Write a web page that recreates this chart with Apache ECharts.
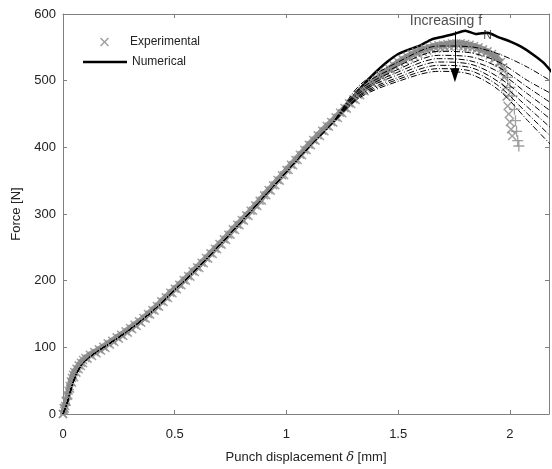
<!DOCTYPE html>
<html>
<head>
<meta charset="utf-8">
<script src="https://cdn.jsdelivr.net/npm/echarts@6/dist/echarts.min.js"></script>
<style>
  html, body { margin: 0; padding: 0; background: #fff; }
  #chart { width: 552px; height: 469px; }
</style>
</head>
<body>
<div id="chart"></div>
<script>
// axis ticks
var xTicks = [0, 0.5, 1, 1.5, 2];
var yTicks = [0, 100, 200, 300, 400, 500, 600];

// experimental specimen 1 (x markers) [displacement mm, force N]
var expA = [
  [0,0],[0.005,5],[0.01,12],[0.015,19],[0.02,27],[0.025,35],[0.03,42],[0.035,49],[0.04,54],[0.045,59],
  [0.05,63],[0.06,68],[0.07,73],[0.08,77],[0.09,81],[0.10,84],[0.12,89],[0.14,93],[0.16,97],[0.18,101],
  [0.20,106],[0.22,110],[0.24,115],[0.26,119],[0.28,124],[0.30,129],[0.32,134],[0.34,139],[0.36,144],[0.38,150],
  [0.40,156],[0.42,162],[0.44,169],[0.46,175],[0.48,182],[0.50,188],[0.52,194],[0.54,201],[0.56,207],[0.58,214],
  [0.60,220],[0.62,227],[0.64,234],[0.66,241],[0.68,248],[0.70,255],[0.72,262],[0.74,269],[0.76,277],[0.78,284],
  [0.80,291],[0.82,298],[0.84,305],[0.86,313],[0.88,320],[0.90,328],[0.92,336],[0.94,343],[0.96,351],[0.98,358],
  [1.00,366],[1.02,374],[1.04,381],[1.06,389],[1.08,396],[1.10,404],[1.12,411],[1.14,418],[1.16,425],[1.18,432],
  [1.20,438],[1.22,445],[1.24,452],[1.26,459],[1.28,466],[1.30,472],[1.32,479],[1.34,485],[1.36,491],[1.38,497],
  [1.40,502],[1.42,508],[1.44,513],[1.46,518],[1.48,523],[1.50,528],[1.52,532],[1.54,536],[1.56,540],[1.58,543],
  [1.60,546],[1.62,548],[1.64,550],[1.66,552],[1.68,553],[1.70,554],[1.72,555],[1.74,556],[1.76,556],[1.78,556],
  [1.80,555],[1.82,554],[1.84,552],[1.86,550],[1.88,547],[1.90,544],[1.92,540],[1.94,535],[1.96,528],[1.97,520],
  [1.975,505],[1.98,490],[1.985,476],[1.99,462],[1.995,450],[2.0,438],[2.005,427],[2.01,417]
];

// experimental specimen 2 (x markers)
var expB = [
  [0,0],[0.003,9],[0.008,8],[0.012,20],[0.016,18],[0.024,28],[0.032,38],[0.04,47],[0.05,55],[0.06,62],
  [0.07,67],[0.08,72],[0.09,76],[0.11,83],[0.13,87],[0.15,91],[0.17,95],[0.19,99],[0.21,104],[0.23,108],
  [0.25,113],[0.27,117],[0.29,122],[0.31,127],[0.33,132],[0.35,137],[0.37,143],[0.39,149],[0.41,155],[0.43,161],
  [0.45,168],[0.47,174],[0.49,181],[0.51,187],[0.53,193],[0.55,200],[0.57,206],[0.59,213],[0.61,219],[0.63,226],
  [0.65,233],[0.67,240],[0.69,247],[0.71,254],[0.73,261],[0.75,269],[0.77,276],[0.79,283],[0.81,290],[0.83,297],
  [0.85,305],[0.87,312],[0.89,320],[0.91,328],[0.93,335],[0.95,343],[0.97,350],[0.99,358],[1.01,366],[1.03,373],
  [1.05,381],[1.07,388],[1.09,396],[1.11,403],[1.13,410],[1.15,417],[1.17,424],[1.19,431],[1.21,437],[1.23,444],
  [1.25,451],[1.27,458],[1.29,465],[1.31,471],[1.33,478],[1.35,484],[1.37,490],[1.39,495],[1.41,501],[1.43,506],
  [1.45,511],[1.47,516],[1.49,521],[1.51,526],[1.53,530],[1.55,534],[1.57,537],[1.59,540],[1.61,543],[1.63,545],
  [1.65,547],[1.67,548],[1.69,549],[1.71,550],[1.73,551],[1.75,552],[1.77,552],[1.79,551],[1.81,550],[1.83,549],
  [1.85,547],[1.87,544],[1.89,541],[1.91,538],[1.93,533],[1.95,527],[1.97,515]
];

// experimental specimen 3 (+ markers), visible at the end of the curve
var expC = [
  [1.80,550],[1.86,545],[1.92,536],[1.96,524],[1.99,505],[2.0,490],[2.01,477],[2.02,457],[2.025,440],
  [2.03,424],[2.035,410],[2.04,402]
];

// numerical, reference f_N (thick solid line)
var numSolid = [
  [0,0],[0.02,20],[0.04,44],[0.06,62],[0.08,73],[0.1,81],[0.15,94],[0.2,105],[0.3,128],[0.4,155],
  [0.5,187],[0.6,219],[0.7,254],[0.8,290],[0.9,327],[1.0,365],[1.1,403],[1.2,438],[1.25,456],[1.3,476],
  [1.35,496],[1.4,513],[1.45,528],[1.5,540],[1.55,547],[1.6,553],[1.65,562],[1.7,566],[1.75,570],[1.8,575],
  [1.85,570],[1.9,572],[1.95,565],[2.0,559],[2.05,551],[2.1,540],[2.15,527],[2.2,508]
];

// numerical, increasing f_N (dash-dot lines): shared loading part, then one tail each
var numHead = [
  [0,0],[0.02,18],[0.04,42],[0.06,60],[0.08,72],[0.1,80],[0.15,93],[0.2,104],[0.3,127],[0.4,154],
  [0.5,186],[0.6,218],[0.7,253],[0.8,289],[0.9,326],[1.0,363],[1.1,400],[1.2,434]
];
var tailX = [1.33, 1.5, 1.68, 1.82, 1.95, 2.08, 2.2];
var tailF = [
  [494, 528, 552, 551, 540, 520, 496],
  [490, 522, 544, 542, 528, 500, 478],
  [487, 517, 538, 536, 520, 490, 463],
  [484, 513, 533, 530, 513, 480, 450],
  [482, 509, 528, 525, 505, 470, 437],
  [479, 505, 523, 520, 498, 460, 424],
  [477, 502, 518, 515, 492, 450, 411],
  [475, 499, 514, 510, 486, 440, 398]
];

// arrow "Increasing f_N"
var arrowX = 1.754;
var arrowFrom = 574;
var arrowTo = 508;
var noteAt = [1.552, 579];

var crossPath = 'path://M0,1.2L1.2,0L5,3.8L8.8,0L10,1.2L6.2,5L10,8.8L8.8,10L5,6.2L1.2,10L0,8.8L3.8,5Z';
var plusPath = 'path://M4.4,0H5.6V4.4H10V5.6H5.6V10H4.4V5.6H0V4.4H4.4Z';
var font = '"Liberation Sans", Arial, Helvetica, sans-serif';
var gray = '#8a8a8a';
var ink = '#222';

var series = [];
// thick solid numerical line sits under the experimental markers
series.push({
  name: 'Numerical', type: 'line', data: numSolid, smooth: 0.2, symbol: 'none',
  lineStyle: { color: '#000', width: 2.5 }, itemStyle: { color: '#000' }, z: 1, silent: true,
  markLine: {
    silent: true, symbol: ['none', 'triangle'], symbolSize: [9, 14],
    lineStyle: { color: '#000', width: 1, type: 'solid' }, label: { show: false },
    data: [[{ coord: [arrowX, arrowFrom] }, { coord: [arrowX, arrowTo] }]]
  }
});
// the markers of specimen 1 overlap into a continuous band (up to the fracture drop)
series.push({
  name: 'expBand', type: 'line', data: expA.filter(function (p) { return p[0] <= 1.96; }), symbol: 'none',
  lineStyle: { color: gray, width: 6, opacity: 0.9 }, z: 2, silent: true
});
series.push({
  name: 'Experimental', type: 'scatter', data: expB, symbol: crossPath, symbolSize: 9,
  itemStyle: { color: gray }, z: 2, silent: true
});
series.push({
  name: 'Experimental', type: 'scatter', data: expA, symbol: crossPath, symbolSize: 9,
  itemStyle: { color: gray }, z: 2, silent: true
});
series.push({
  name: 'exp3', type: 'scatter', data: expC, symbol: plusPath, symbolSize: 11,
  itemStyle: { color: gray }, z: 2, silent: true
});
tailF.forEach(function (row, i) {
  var pts = numHead.slice();
  row.forEach(function (f, j) { pts.push([tailX[j], f]); });
  series.push({
    name: 'fN' + (i + 1), type: 'line', data: pts, smooth: 0.3, symbol: 'none',
    lineStyle: { color: '#000', width: 1, type: [6, 2, 1, 2] }, z: 3, silent: true
  });
});
series.push({
  name: 'note', type: 'scatter', data: [noteAt], symbolSize: 0, silent: true, z: 5,
  itemStyle: { color: ink },
  label: {
    show: true, position: 'right', distance: 0, color: ink,
    formatter: '{a|Increasing f}{b|N}',
    rich: {
      a: { fontFamily: font, fontSize: 14, color: ink, verticalAlign: 'top' },
      b: { fontFamily: font, fontSize: 12, color: ink, padding: [15, 0, 0, 1], verticalAlign: 'bottom' }
    }
  }
});

var axisGray = '#808080';
var chart = echarts.init(document.getElementById('chart'), null, { renderer: 'canvas' });
chart.setOption({
  animation: false,
  backgroundColor: '#fff',
  textStyle: { fontFamily: font },
  grid: { left: 63, right: 1, top: 14, bottom: 54 },
  legend: [{
    left: 100, top: 36, padding: 0, itemWidth: 9, itemHeight: 9, selectedMode: false,
    data: [{ name: 'Experimental', icon: crossPath, itemStyle: { color: gray } }],
    textStyle: { fontFamily: font, fontSize: 12, color: ink, padding: [0, 0, 0, 16] }
  }, {
    left: 83, top: 56, padding: 0, itemWidth: 44, itemHeight: 14, selectedMode: false,
    data: [{ name: 'Numerical', icon: 'path://M0,0H44V2.5H0Z', itemStyle: { color: '#000' } }],
    textStyle: { fontFamily: font, fontSize: 12, color: ink }
  }],
  xAxis: [{
    type: 'value', min: 0, max: 2.175, interval: 0.5,
    name: '{n|Punch displacement }{i|δ}{n| [mm]}', nameLocation: 'middle', nameGap: 37,
    nameTextStyle: {
      rich: {
        n: { fontFamily: font, fontSize: 13, color: ink },
        i: { fontFamily: 'DejaVu Serif', fontStyle: 'italic', fontSize: 13, color: ink }
      }
    },
    axisLine: { onZero: false, lineStyle: { color: axisGray } },
    axisTick: { inside: true, length: 4, lineStyle: { color: axisGray } },
    axisLabel: {
      color: ink, fontSize: 13, margin: 14,
      formatter: function (v) { return xTicks.indexOf(Math.round(v * 1000) / 1000) >= 0 ? String(v) : ''; }
    },
    splitLine: { show: false }
  }, {
    type: 'value', position: 'top', min: 0, max: 2.175, interval: 0.5,
    axisLine: { onZero: false, lineStyle: { color: axisGray } },
    axisTick: { inside: true, length: 4, lineStyle: { color: axisGray } },
    axisLabel: { show: false }, splitLine: { show: false }
  }],
  yAxis: [{
    type: 'value', min: yTicks[0], max: yTicks[yTicks.length - 1], interval: 100,
    name: 'Force [N]', nameLocation: 'middle', nameGap: 31, nameRotate: 90,
    nameTextStyle: { fontFamily: font, fontSize: 13, color: ink },
    axisLine: { show: true, onZero: false, lineStyle: { color: axisGray } },
    axisTick: { show: true, inside: true, length: 4, lineStyle: { color: axisGray } },
    axisLabel: { color: ink, fontSize: 13, margin: 7 },
    splitLine: { show: false }
  }, {
    type: 'value', position: 'right', min: 0, max: 600, interval: 100,
    axisLine: { show: true, onZero: false, lineStyle: { color: axisGray } },
    axisTick: { show: true, inside: true, length: 4, lineStyle: { color: axisGray } },
    axisLabel: { show: false }, splitLine: { show: false }
  }],
  series: series
});
</script>
</body>
</html>
